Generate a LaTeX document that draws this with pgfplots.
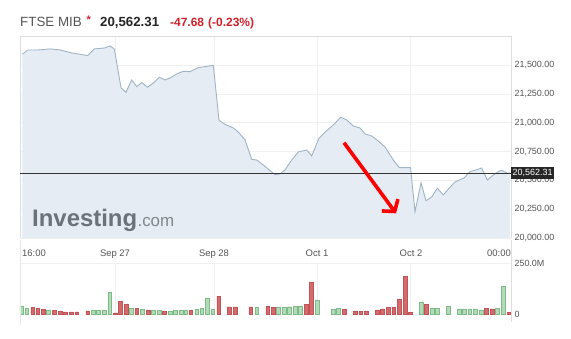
\documentclass[border=0pt]{standalone}
\usepackage{pgfplots}
\pgfplotsset{compat=1.18}
\usepackage{fontspec}
\setmainfont{Liberation Sans}
\usetikzlibrary{arrows.meta}
\definecolor{fillc}{HTML}{E5ECF3}
\definecolor{linec}{HTML}{A0B4C6}
\definecolor{gridc}{HTML}{F0F0F0}
\definecolor{framec}{HTML}{DEDEDE}
\definecolor{textc}{HTML}{555555}
\definecolor{greenf}{HTML}{B2DAB7}
\definecolor{greend}{HTML}{7DBB88}
\definecolor{redf}{HTML}{D46A6C}
\definecolor{redd}{HTML}{C05458}
\definecolor{titlered}{HTML}{D0202A}
\definecolor{logoc}{HTML}{6B7279}

\pgfplotstableread{
x y
22.3 21593
27.7 21630
38.3 21630
50 21639
60 21630
71.7 21604
78.3 21595
87.7 21581
94.3 21639
104.3 21647
110 21665
114.3 21639
121 21303
126 21263
131.7 21370
136.7 21312
141.7 21347
147.7 21307
153.3 21344
159.3 21393
165 21370
170 21387
176.7 21422
183.3 21445
190 21442
198.3 21477
205 21485
213.3 21497
219 21020
225 20985
233.3 20954
238.3 20919
245 20850
251.7 20682
256.7 20676
263.3 20633
271.7 20572
275 20549
280 20555
285 20590
291.7 20676
298.3 20746
306.7 20763
311.7 20711
319 20865
326 20925
333.3 20980
340.7 21047
346.7 21023
353.3 20971
360 20954
365 20902
371.7 20884
378.3 20841
385 20789
393.3 20676
399.3 20610
410.5 20610
415 20228
421 20479
426 20323
431.7 20356
437.3 20431
443.3 20373
449.3 20434
455 20486
464 20520
470 20575
476 20590
481.7 20607
487.3 20503
493.3 20546
498.3 20575
501.7 20587
506.7 20564
510 20562
}\price

\pgfplotstableread{
x v
21.7 40
26.7 30
48.3 20
93.3 18.5
98.3 18.5
104.3 20
109.7 106
131.3 30
142.3 21.5
153.3 16.5
159 16.5
170 15
175.3 16.5
181 16.5
185.7 16.5
196.7 23.5
201.7 28.5
207.3 80
212.7 21.5
256.7 35
278.5 33
284 33
289.5 36
295 38
300.5 40
317.5 68
333 23.5
338.5 28.5
421.2 58
432 28.5
437 28.5
448.3 36.5
459.3 25
464.2 25
469.7 25
475.3 25
481.2 20
497 28.5
503.3 136.5
}\volup

\pgfplotstableread{
x v
32.7 31.5
37.7 26.5
43.3 23.5
54.3 16.5
60 11.5
65 10
71 10
76.7 10
87.7 15
115.3 5
120.5 63.5
126 46.5
136.7 26.5
148 20
164.3 11.5
190.7 16.5
218.7 88.5
229 35
235 35
250.7 35
267.7 38.5
273 31.5
306 48.5
311.5 156
344.3 23.5
355.3 15
360.8 11.5
366.3 15
377 20
382.5 25
388 31.5
393.7 31.5
399.5 73.5
405 186.5
410.3 6.5
426.3 48.5
486.3 28.5
492 25
508.7 6.5
}\voldown

\begin{document}
\begin{tikzpicture}[x=1bp,y=1bp]
\useasboundingbox (0,0) rectangle (571,338);
\fill[white] (0,0) rectangle (571,338);

% price panel
\begin{axis}[
  at={(20bp,100bp)}, anchor=south west, scale only axis,
  width=491bp, height=202bp,
  xmin=20, xmax=511, ymin=20000, ymax=21751,
  scaled y ticks=false, scaled x ticks=false,
  axis line style={draw=none}, major tick length=0pt,
  ytick={20000,20250,20500,20750,21000,21250,21500},
  yticklabels={{20,000.00},{20,250.00},{20,500.00},{20,750.00},{21,000.00},{21,250.00},{21,500.00}},
  yticklabel pos=right,
  yticklabel style={anchor=west, xshift=0bp, font=\fontsize{9}{10}\selectfont, text=textc},
  ymajorgrids, major grid style={gridc, line width=0.5bp},
  xtick={34,115,214,317,411,499},
  xticklabels={16:00,Sep 27,Sep 28,Oct 1,Oct 2,00:00},
  xticklabel style={anchor=base, yshift=-18.7bp, font=\fontsize{9.5}{10}\selectfont, text=textc},
  extra x ticks={115,214,317,410}, extra x tick labels={},
  extra x tick style={xmajorgrids, major grid style={gridc, line width=0.5bp}},
  clip=false,
  /pgf/number format/assume math mode=true,
]
\addplot[draw=none, fill=fillc] table[x=x,y=y] {\price} \closedcycle;
\node[anchor=base west, inner sep=0pt, text=logoc, font=\fontsize{24}{24}\bfseries\selectfont] (inv) at (axis cs:32,20000) [yshift=11.3bp] {Investing};
\node[anchor=base west, inner sep=0pt, text=logoc!85, font=\fontsize{17}{17}\selectfont] at (inv.base east) {.com};
\addplot[linec, line width=0.9bp] table[x=x,y=y] {\price};
\draw[framec, line width=0.6bp] (axis cs:20,20000) -- (axis cs:20,21751) -- (axis cs:511,21751) -- (axis cs:511,20000);
\draw[black!80, line width=1bp] (axis cs:20,20562.31) -- (axis cs:511,20562.31);
\node[anchor=west, fill=black!85, text=white, inner sep=1.5bp, minimum height=12bp, font=\fontsize{9}{10}\selectfont] at (axis cs:511,20562.31) {20,562.31};
\draw[red, line width=3.6bp, -{Straight Barb[length=8bp, width=20bp]}] (axis cs:344,20826) -- (axis cs:396,20214);
\end{axis}

% volume panel
\begin{axis}[
  at={(20bp,24bp)}, anchor=south west, scale only axis,
  width=491bp, height=50.7bp,
  xmin=20, xmax=511, ymin=0, ymax=250,
  scaled y ticks=false, scaled x ticks=false,
  axis line style={draw=none}, major tick length=0pt,
  ytick={0,250}, yticklabels={0,250.0M},
  yticklabel pos=right,
  yticklabel style={anchor=west, font=\fontsize{9}{10}\selectfont, text=textc},
  xtick={115,214,317,410}, xticklabels={},
  xmajorgrids, major grid style={gridc, line width=0.5bp},
  ybar, bar width=3.7bp, bar shift=0pt,
  clip=false,
  /pgf/number format/assume math mode=true,
]
\draw[gridc, line width=0.5bp] (axis cs:20,250) -- (axis cs:511,250);
\addplot[fill=greenf, draw=greend, line width=0.4bp] table[x=x,y=v] {\volup};
\addplot[fill=redf, draw=redd, line width=0.4bp] table[x=x,y=v] {\voldown};
\end{axis}

\draw[framec, line width=0.6bp] (511,98) -- (511,16);
\draw[framec!70, line width=0.5bp] (20,98) -- (20,13);

% title
\node[anchor=base west, inner sep=0pt, text=textc, font=\fontsize{13.4}{14}\selectfont] at (20,311.5) {FTSE MIB};
\node[anchor=base west, inner sep=0pt, text=titlered, font=\fontsize{11}{12}\bfseries\selectfont] at (86.5,315) {*};
\node[anchor=base west, inner sep=0pt, text=black!85, font=\fontsize{13.3}{14}\bfseries\selectfont] at (100,311.5) {20,562.31};
\node[anchor=base west, inner sep=0pt, text=titlered, font=\fontsize{12}{13}\bfseries\selectfont] at (170,311.5) {-47.68};
\node[anchor=base west, inner sep=0pt, text=titlered, font=\fontsize{12}{13}\bfseries\selectfont] at (208,311.5) {(-0.23\%)};
\end{tikzpicture}
\end{document}
